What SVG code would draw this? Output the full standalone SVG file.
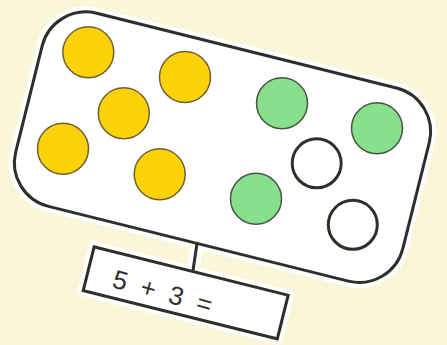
<svg xmlns="http://www.w3.org/2000/svg" width="447" height="345" viewBox="0 0 447 345">
  <style>
    .halo { fill: #ffffff; stroke: #ffffff; stroke-width: 11; stroke-linejoin: round; }
    .frame { fill: #ffffff; stroke: #2f2f2a; stroke-width: 3; }
    .yellow { fill: #fed20a; stroke: #6e6130; stroke-width: 1.5; }
    .green { fill: #88e08c; stroke: #44543f; stroke-width: 1.5; }
    .empty { fill: #ffffff; stroke: #2f2f2a; stroke-width: 3; }
    .label { font-family: "Liberation Sans", "Open Sans", sans-serif; font-size: 26px; fill: #2f2f2f; }
  </style>
  <rect x="0" y="0" width="447" height="345" fill="#fcf6d8"/>

  <g id="label">
    <rect class="halo" x="85.7" y="270.4" width="200" height="45" transform="rotate(14 185.7 292.9)"/>
    <line x1="197.5" y1="242" x2="192.5" y2="271" stroke="#ffffff" stroke-width="13"/>
    <rect class="frame" x="85.7" y="270.4" width="200" height="45" transform="rotate(14 185.7 292.9)"/>
    <text class="label" x="111" y="287" textLength="102" lengthAdjust="spacing" transform="rotate(15.5 111 287)">5 + 3 =</text>
  </g>

  <g id="tray">
    <rect class="halo" x="23" y="47.7" width="399" height="199" rx="45" transform="rotate(14 222.5 147.2)"/>
    <rect class="frame" x="23" y="47.7" width="399" height="199" rx="45" transform="rotate(14 222.5 147.2)"/>
  </g>

  <g id="yellow-1"><circle class="yellow" cx="88.3" cy="52.2" r="25.5"/></g>
  <g id="yellow-2"><circle class="yellow" cx="185" cy="77" r="25.5"/></g>
  <g id="yellow-3"><circle class="yellow" cx="123.8" cy="113.3" r="25.5"/></g>
  <g id="yellow-4"><circle class="yellow" cx="63" cy="148.8" r="25.5"/></g>
  <g id="yellow-5"><circle class="yellow" cx="159.7" cy="174.2" r="25.5"/></g>

  <g id="green-1"><circle class="green" cx="282" cy="103.3" r="25.5"/></g>
  <g id="green-2"><circle class="green" cx="377" cy="128.3" r="25.5"/></g>
  <g id="green-3"><circle class="green" cx="256" cy="198.8" r="25.5"/></g>

  <g id="empty-1"><circle class="empty" cx="316.7" cy="163.3" r="24.5"/></g>
  <g id="empty-2"><circle class="empty" cx="352.8" cy="224.8" r="24.5"/></g>

  <g id="connectors">
    <line x1="197" y1="243.5" x2="193" y2="270.5" stroke="#2f2f2a" stroke-width="3"/>
  </g>
</svg>
